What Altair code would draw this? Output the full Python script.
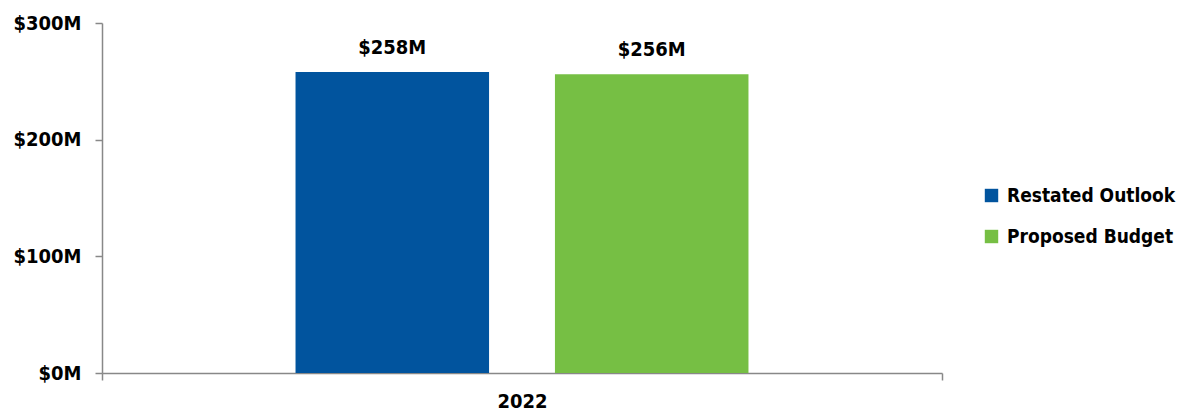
import altair as alt
import pandas as pd

years = ["2022", "2022"]
series = ["Restated Outlook", "Proposed Budget"]
values = [258, 256]
colors = ["#01549E", "#76BF44"]

df = pd.DataFrame({"year": years, "series": series, "value": values})
df["label"] = ["$" + str(v) + "M" for v in values]

FONT = "DejaVu Sans Condensed"

base = alt.Chart(df).encode(
    x=alt.X("year:N", title=None,
            scale=alt.Scale(paddingInner=0, paddingOuter=0),
            axis=alt.Axis(labelAngle=0, tickBand="extent", tickSize=7,
                          labelPadding=11, labelFontSize=20, labelFont=FONT,
                          labelFontWeight="bold", labelColor="black",
                          domainColor="#888888", tickColor="#888888",
                          domainWidth=1.5, tickWidth=1.5)),
    xOffset=alt.XOffset("series:N", sort=series,
                        scale=alt.Scale(paddingInner=0.254, paddingOuter=0.746)),
)

bars = base.mark_bar().encode(
    y=alt.Y("value:Q", title=None,
            scale=alt.Scale(domain=[0, 300], nice=False),
            axis=alt.Axis(values=[0, 100, 200, 300], grid=False, tickSize=7,
                          labelPadding=14, labelFontSize=20, labelFont=FONT,
                          labelFontWeight="bold", labelColor="black",
                          labelExpr="'$' + datum.value + 'M'",
                          domainColor="#888888", tickColor="#888888",
                          domainWidth=1.5, tickWidth=1.5)),
    color=alt.Color("series:N", sort=series,
                    scale=alt.Scale(domain=series, range=colors),
                    legend=alt.Legend(title=None, orient="none", legendX=880,
                                      legendY=163, symbolType="square",
                                      symbolSize=180, symbolStrokeWidth=0,
                                      labelFontSize=19, labelFont=FONT,
                                      labelFontWeight="bold", labelColor="black",
                                      labelLimit=300,
                                      rowPadding=21, symbolOffset=0,
                                      labelOffset=6)),
)

text = base.mark_text(baseline="bottom", dy=-14, fontSize=20, font=FONT,
                      fontWeight="bold", color="black").encode(
    y=alt.Y("value:Q"),
    text="label:N",
)

chart = (bars + text).properties(
    width=840, height=350,
    autosize=alt.AutoSizeParams(type="none"),
    padding={"left": 102, "top": 23, "right": 243, "bottom": 42},
).configure_view(stroke=None)

chart.save("out.html", embed_options={"renderer": "svg", "actions": False})
